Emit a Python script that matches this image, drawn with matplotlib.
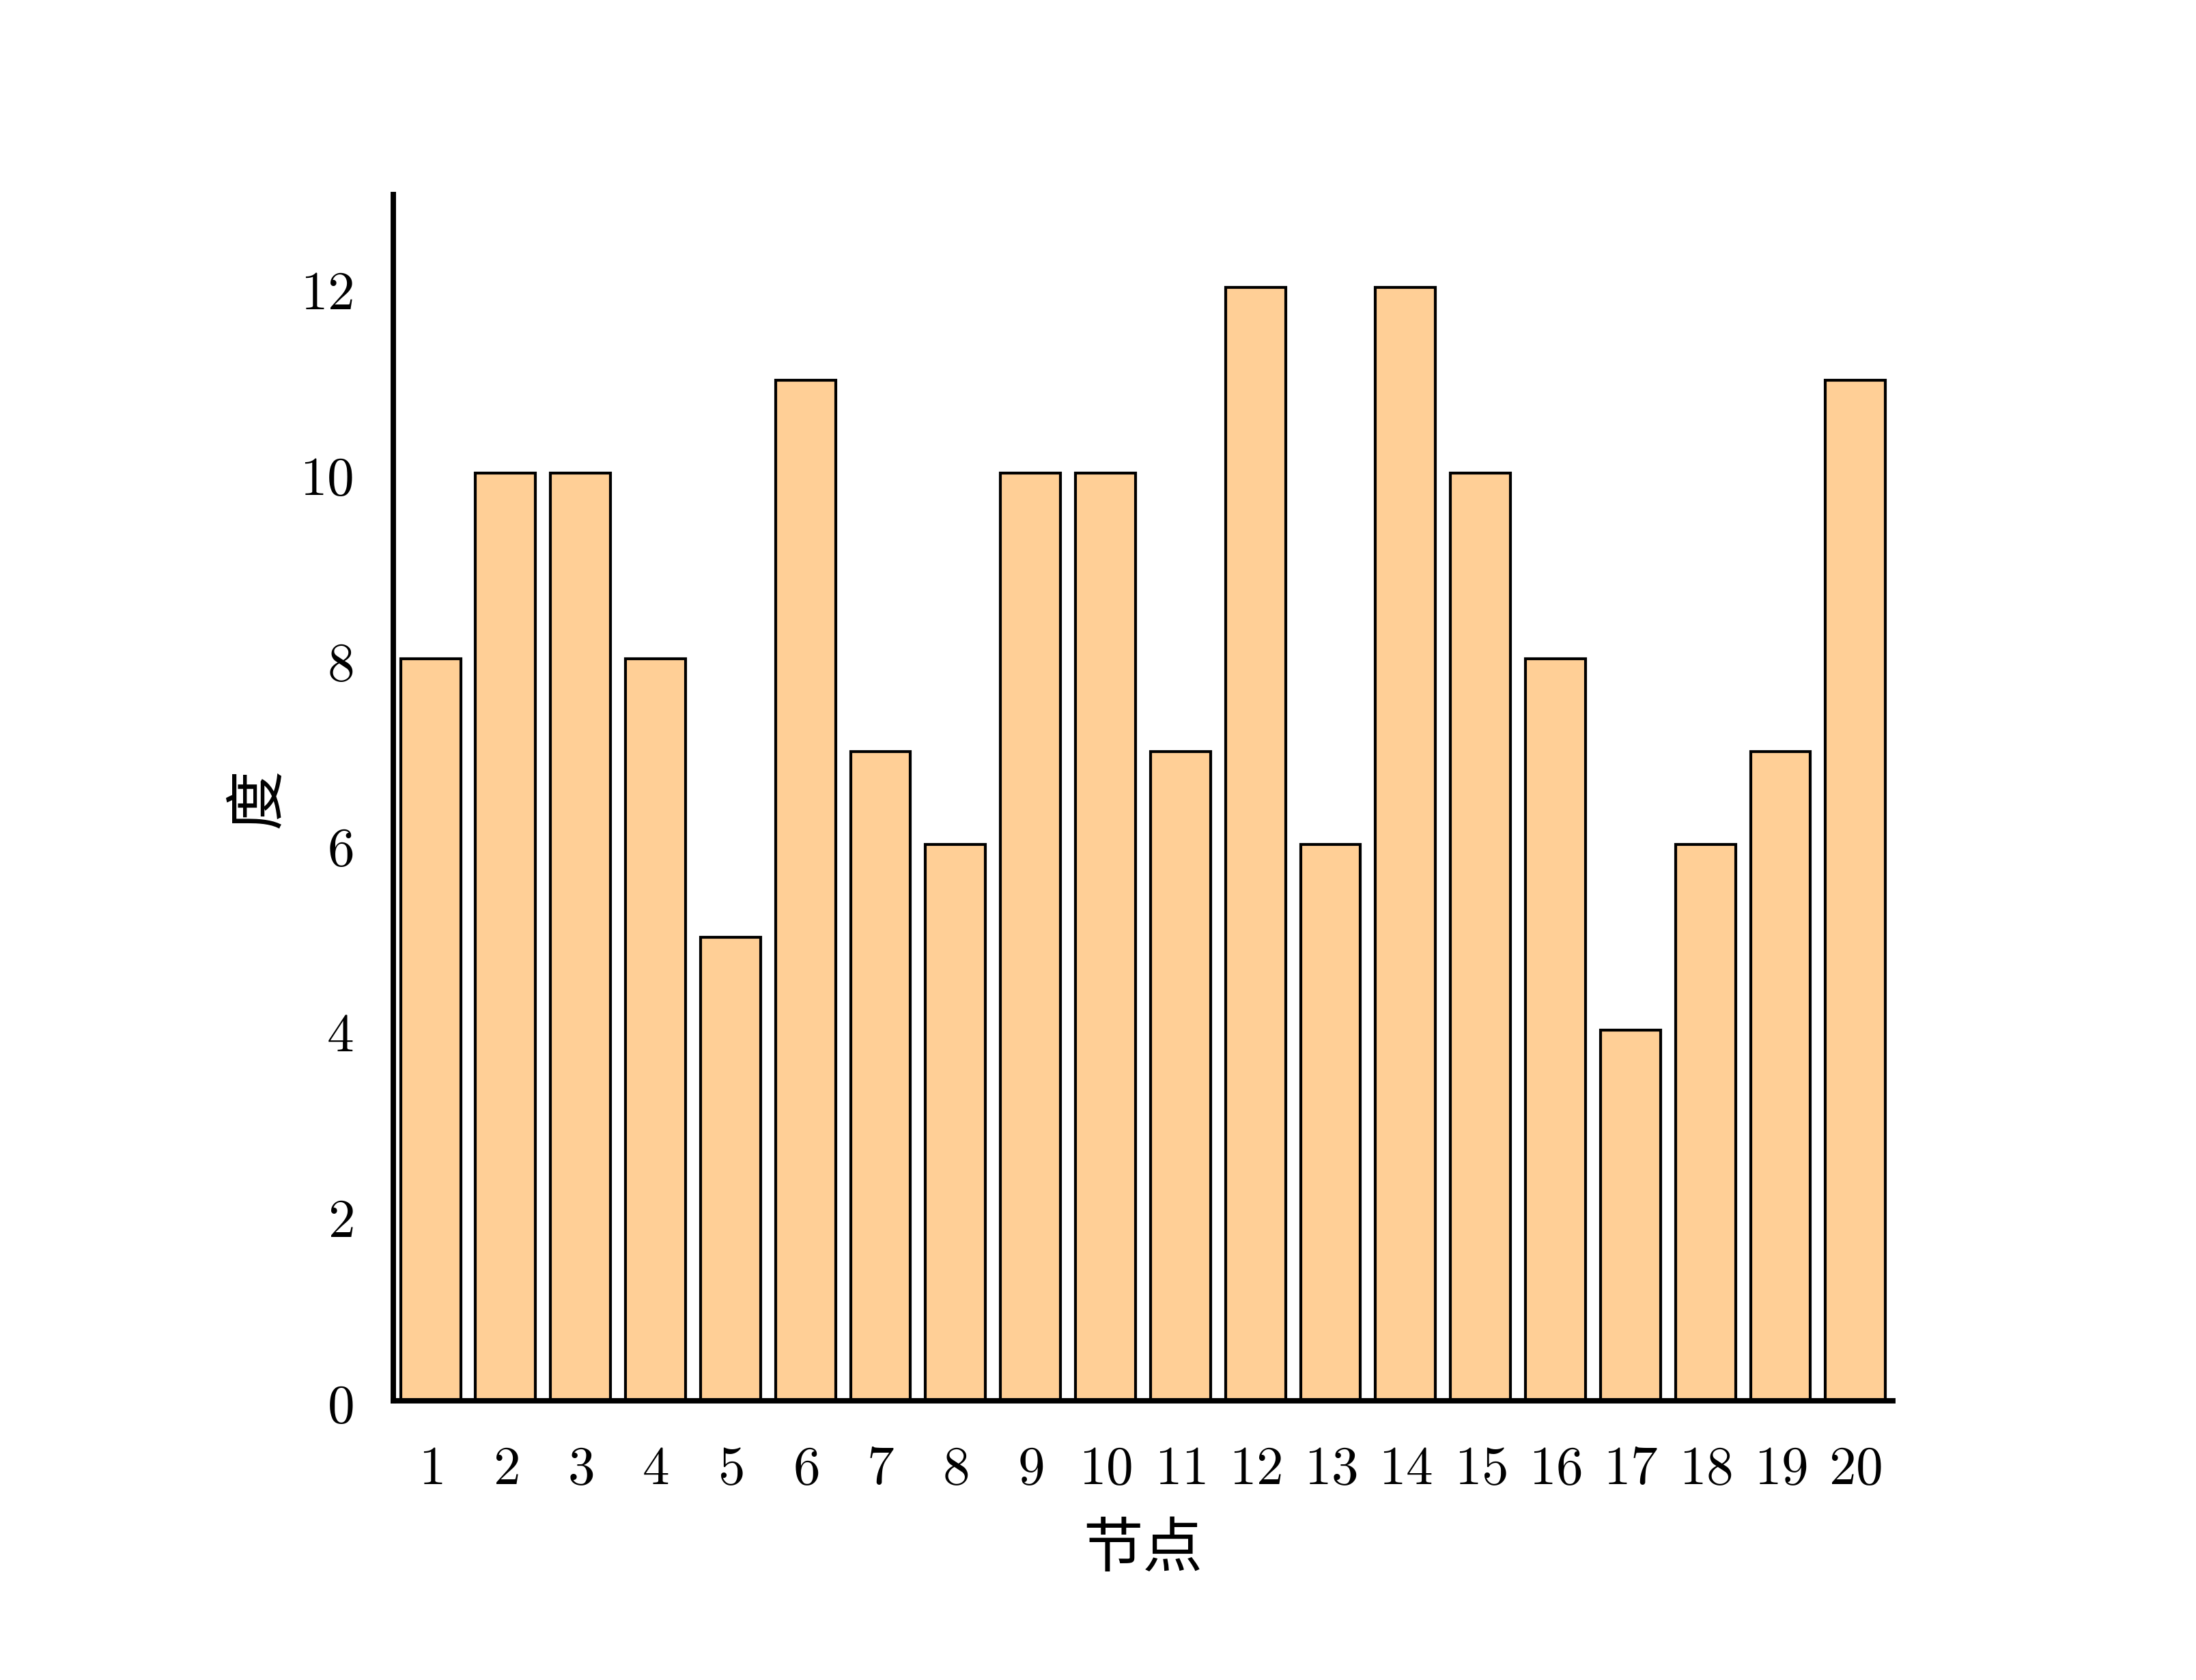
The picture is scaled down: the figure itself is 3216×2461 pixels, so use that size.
import matplotlib
matplotlib.use("Agg")
import matplotlib.pyplot as plt

plt.rcParams['font.family'] = ['Noto Sans CJK SC', 'DejaVu Sans']
plt.rcParams['mathtext.fontset'] = 'cm'

nodes = list(range(1, 21))
degrees = [8, 10, 10, 8, 5, 11, 7, 6, 10, 10, 7, 12, 6, 12, 10, 8, 4, 6, 7, 11]
yticks = [0, 2, 4, 6, 8, 10, 12]

fig = plt.figure(figsize=(10.72, 2461 / 300), dpi=300)
ax = fig.add_axes([0.179, 0.166, 0.862 - 0.179, 0.884 - 0.166])

ax.bar(nodes, degrees, width=0.8, color='#FFCF96', edgecolor='black', linewidth=1.0, zorder=2)

ax.set_xlim(0.5, 20.5)
ax.set_ylim(0, 13)
ax.set_xticks(nodes)
ax.set_xticklabels([f'${n}$' for n in nodes])
ax.set_yticks(yticks)
ax.set_yticklabels([f'${v}$' for v in yticks])
ax.tick_params(axis='both', length=0, labelsize=19)
ax.tick_params(axis='x', pad=14)
ax.tick_params(axis='y', pad=14)

for s in ['top', 'right']:
    ax.spines[s].set_visible(False)
for s in ['left', 'bottom']:
    ax.spines[s].set_linewidth(1.9)
    ax.spines[s].set_zorder(3)

ax.set_xlabel('节点', fontsize=21, labelpad=8)
ax.set_ylabel('度', fontsize=21, labelpad=4)

fig.savefig('out.png', dpi=300)
